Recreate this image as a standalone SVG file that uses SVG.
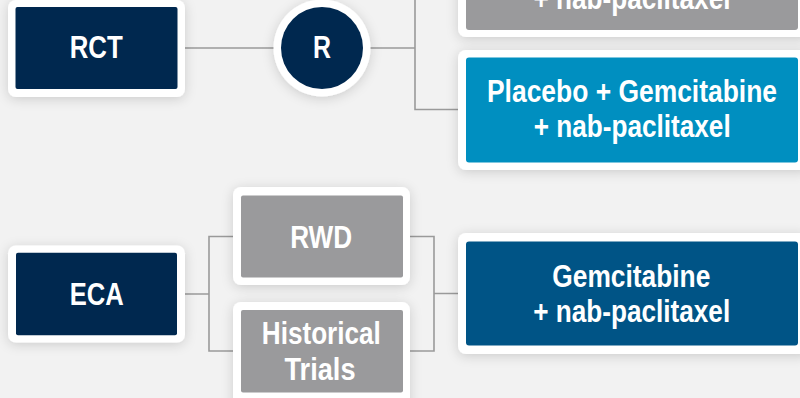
<svg xmlns="http://www.w3.org/2000/svg" width="800" height="398" viewBox="0 0 800 398">
  <defs>
    <filter id="sh" x="-20%" y="-30%" width="140%" height="160%">
      <feDropShadow dx="0" dy="2" stdDeviation="6" flood-color="#000" flood-opacity="0.16"/>
    </filter>
  </defs>
  <style>
    .frame { fill: #ffffff; filter: url(#sh); }
    .navy { fill: #00284f; }
    .gray { fill: #9a9a9c; }
    .lblue { fill: #008fc0; }
    .dblue { fill: #005486; }
    .t { font-family: "Liberation Sans Narrow", "Liberation Sans", Arial, sans-serif; font-weight: bold; fill: #ffffff; text-anchor: middle; font-size: 31px; }
    .conn { fill: none; stroke: #9a9a9a; stroke-width: 1.6; }
  </style>
  <rect width="800" height="398" fill="#f2f2f2"/>

  <g id="connectors">
    <path class="conn" d="M185 48 H276"/>
    <path class="conn" d="M370 48 H415 M415 -20 V109.5 H463"/>
    <path class="conn" d="M185 294 H209 M237 236.5 H209 V351 H237"/>
    <path class="conn" d="M406 236.5 H434 V351 H406 M434 293.5 H463"/>
  </g>

  <g id="rct">
    <rect class="frame" x="8" y="0" width="177" height="97" rx="8"/>
    <rect class="navy" x="15.5" y="7" width="162" height="82" rx="2"/>
    <text class="t" x="96.2" y="58.3" textLength="53" lengthAdjust="spacingAndGlyphs">RCT</text>
  </g>

  <g id="randomize">
    <circle class="frame" cx="322" cy="48" r="48.5"/>
    <circle class="navy" cx="322" cy="48" r="41"/>
    <text class="t" x="322" y="58.3" textLength="18" lengthAdjust="spacingAndGlyphs">R</text>
  </g>

  <g id="arm-top">
    <rect class="frame" x="458" y="-90" width="352" height="127" rx="8"/>
    <rect class="gray" x="466" y="-82" width="332" height="112" rx="3"/>
    <text class="t" x="632" y="9" textLength="197" lengthAdjust="spacingAndGlyphs">+ nab-paclitaxel</text>
  </g>

  <g id="arm-placebo">
    <rect class="frame" x="458" y="50" width="352" height="120" rx="8"/>
    <rect class="lblue" x="466" y="57.5" width="332" height="105" rx="3"/>
    <text class="t" x="632" y="101.7" textLength="290" lengthAdjust="spacingAndGlyphs">Placebo + Gemcitabine</text>
    <text class="t" x="632.2" y="137" textLength="197" lengthAdjust="spacingAndGlyphs">+ nab-paclitaxel</text>
  </g>

  <g id="eca">
    <rect class="frame" x="8" y="245.5" width="177" height="97" rx="8"/>
    <rect class="navy" x="16" y="252.7" width="161" height="82.5" rx="2"/>
    <text class="t" x="96.7" y="305" textLength="54" lengthAdjust="spacingAndGlyphs">ECA</text>
  </g>

  <g id="rwd">
    <rect class="frame" x="233" y="187" width="177" height="98" rx="8"/>
    <rect class="gray" x="241" y="195.5" width="162" height="82" rx="2"/>
    <text class="t" x="321.2" y="248.3" textLength="62" lengthAdjust="spacingAndGlyphs">RWD</text>
  </g>

  <g id="historical">
    <rect class="frame" x="233" y="302" width="177" height="110" rx="8"/>
    <rect class="gray" x="241" y="310" width="162" height="82.5" rx="2"/>
    <text class="t" x="321.3" y="344.3" textLength="119" lengthAdjust="spacingAndGlyphs">Historical</text>
    <text class="t" x="320" y="380" textLength="71" lengthAdjust="spacingAndGlyphs">Trials</text>
  </g>

  <g id="arm-eca">
    <rect class="frame" x="458" y="233" width="352" height="121" rx="8"/>
    <rect class="dblue" x="466" y="241.5" width="332" height="104" rx="3"/>
    <text class="t" x="631.3" y="286.5" textLength="158" lengthAdjust="spacingAndGlyphs">Gemcitabine</text>
    <text class="t" x="631.7" y="321.7" textLength="197" lengthAdjust="spacingAndGlyphs">+ nab-paclitaxel</text>
  </g>
</svg>
